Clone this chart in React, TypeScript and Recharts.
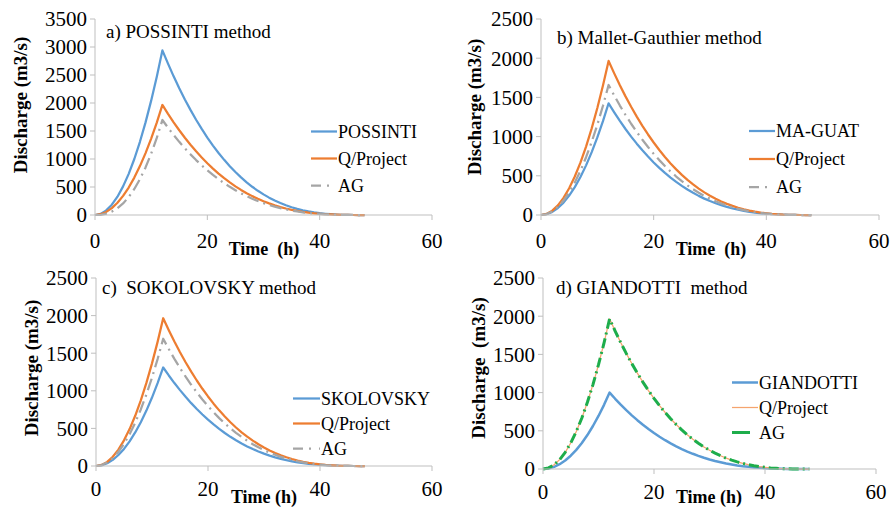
import React from 'react';
import { LineChart, Line, XAxis, YAxis, Legend } from 'recharts';

const FONT = '"Liberation Serif", "Times New Roman", Times, serif';
const AXIS_COLOR = '#BFBFBF';

// Time steps of the hydrographs (h)
const hours = [
  0, 1, 2, 3, 4, 5, 6, 7, 8, 9, 10, 11, 12, 13, 14, 15, 16, 17, 18, 19, 20, 21, 22, 23, 24,
  25, 26, 27, 28, 29, 30, 31, 32, 33, 34, 35, 36, 37, 38, 39, 40, 41, 42, 43, 44, 45, 46, 47, 48,
];

// Design flood hydrograph (m3/s)
const qProject = [
  0, 14, 55, 123, 218, 341, 491, 668, 873, 1105, 1365, 1651, 1965, 1806, 1655, 1513, 1380, 1255,
  1137, 1027, 925, 829, 740, 658, 582, 512, 448, 390, 337, 289, 246, 207, 173, 142, 116, 93, 73,
  56, 42, 31, 22, 14, 9, 5, 3, 1, 0, 0, 0,
];

// a) POSSINTI
const possinti = [
  0, 20, 82, 184, 327, 511, 735, 1000, 1307, 1654, 2042, 2470, 2940, 2702, 2476, 2264, 2064, 1877,
  1701, 1537, 1383, 1240, 1107, 985, 871, 767, 671, 584, 504, 432, 368, 310, 258, 213, 173, 138,
  109, 84, 63, 46, 32, 22, 14, 8, 4, 2, 0, 0, 0,
];
const agPossinti = [
  0, 4, 23, 61, 121, 207, 321, 465, 641, 850, 1095, 1376, 1696, 1559, 1428, 1306, 1191, 1083, 981,
  886, 798, 716, 639, 568, 503, 442, 387, 337, 291, 249, 212, 179, 149, 123, 100, 80, 63, 48, 36,
  26, 19, 12, 8, 5, 2, 1, 0, 0, 0,
];

// b) Mallet-Gauthier
const malletGauthier = [
  0, 10, 40, 89, 158, 248, 356, 485, 633, 802, 990, 1197, 1425, 1310, 1200, 1097, 1000, 910, 825,
  745, 670, 601, 537, 477, 422, 372, 325, 283, 244, 209, 178, 150, 125, 103, 84, 67, 53, 41, 30,
  22, 16, 10, 7, 4, 2, 1, 0, 0, 0,
];
const agMallet = [
  0, 12, 46, 104, 184, 288, 415, 564, 737, 933, 1151, 1393, 1658, 1524, 1396, 1277, 1164, 1059,
  959, 867, 780, 700, 625, 555, 491, 432, 378, 329, 284, 244, 207, 175, 146, 120, 97, 78, 61, 47,
  35, 26, 18, 12, 8, 4, 2, 1, 0, 0, 0,
];

// c) Sokolovsky
const sokolovsky = [
  0, 9, 36, 82, 146, 227, 328, 446, 582, 737, 910, 1101, 1310, 1204, 1103, 1009, 920, 836, 758,
  685, 616, 553, 493, 439, 388, 342, 299, 260, 225, 193, 164, 138, 115, 95, 77, 62, 48, 37, 28,
  20, 14, 10, 6, 4, 2, 1, 0, 0, 0,
];
const agSokolovsky = [
  0, 12, 47, 106, 188, 294, 423, 576, 752, 952, 1175, 1422, 1692, 1555, 1425, 1303, 1188, 1080,
  979, 884, 796, 714, 637, 567, 501, 441, 386, 336, 290, 249, 212, 178, 149, 122, 99, 80, 63, 48,
  36, 26, 19, 12, 8, 5, 2, 1, 0, 0, 0,
];

// d) Giandotti
const giandotti = [
  0, 7, 28, 63, 111, 174, 250, 340, 444, 563, 694, 840, 1000, 919, 842, 770, 702, 639, 579, 523,
  471, 422, 377, 335, 296, 261, 228, 199, 172, 147, 125, 105, 88, 72, 59, 47, 37, 29, 21, 16, 11,
  7, 5, 3, 1, 1, 0, 0, 0,
];
// AG coincides with the design hydrograph in this panel
const agGiandotti = qProject;

const xTicks = [0, 20, 40, 60];
const yTicksWide = [0, 500, 1000, 1500, 2000, 2500, 3000, 3500];
const yTicksStd = [0, 500, 1000, 1500, 2000, 2500];

type SeriesStyle = {
  key: string;
  name: string;
  color: string;
  width: number;
  dash?: string;
  legendDash?: string;
};

type Box = { top: number; right: number; bottom: number; left: number };

type PanelSpec = {
  left: number;
  top: number;
  width: number;
  height: number;
  margin: Box;
  yMax: number;
  yTicks: number[];
  main: number[];
  ag: number[];
  series: SeriesStyle[];
  title: string;
  titleAt: [number, number];
  yLabel: string;
  yLabelAt: [number, number];
  xLabel: string;
  xLabelAt: [number, number];
  xTickMargin: number;
  legendAt: [number, number];
  legendGap: number;
  legendLine: number;
};

const BLUE = '#5B9BD5';
const ORANGE = '#ED7D31';
const GRAY = '#A5A5A5';
const GREEN = '#1EAD4B';
const LIGHT_ORANGE = '#F5A46E';

const std = (mainName: string): SeriesStyle[] => [
  { key: 'main', name: mainName, color: BLUE, width: 2.25 },
  { key: 'q', name: 'Q/Project', color: ORANGE, width: 2.25 },
  { key: 'ag', name: 'AG', color: GRAY, width: 2.25, dash: '12 5 2 5', legendDash: '10 6 2 8' },
];

const panels: PanelSpec[] = [
  {
    left: 0, top: 0, width: 445, height: 262,
    margin: { top: 19, right: 13, bottom: 17, left: 35 },
    yMax: 3500, yTicks: yTicksWide, main: possinti, ag: agPossinti,
    series: std('POSSINTI'),
    title: 'a) POSSINTI method', titleAt: [106, 31],
    yLabel: 'Discharge (m3/s)', yLabelAt: [20, 105],
    xLabel: 'Time  (h)', xLabelAt: [264, 249], xTickMargin: 13,
    legendAt: [311, 131], legendGap: 27, legendLine: 26,
  },
  {
    left: 445, top: 0, width: 445, height: 262,
    margin: { top: 19, right: 11, bottom: 17, left: 36 },
    yMax: 2500, yTicks: yTicksStd, main: malletGauthier, ag: agMallet,
    series: std('MA-GUAT'),
    title: 'b) Mallet-Gauthier method', titleAt: [112, 37],
    yLabel: 'Discharge (m3/s)', yLabelAt: [29, 107],
    xLabel: 'Time  (h)', xLabelAt: [266, 249], xTickMargin: 13,
    legendAt: [304, 131], legendGap: 28, legendLine: 26,
  },
  {
    left: 0, top: 255, width: 445, height: 252,
    margin: { top: 23, right: 13, bottom: 11, left: 36 },
    yMax: 2500, yTicks: yTicksStd, main: sokolovsky, ag: agSokolovsky,
    series: std('SKOLOVSKY'),
    title: 'c)  SOKOLOVSKY method', titleAt: [102, 32],
    yLabel: 'Discharge (m3/s)', yLabelAt: [31, 113],
    xLabel: 'Time (h)', xLabelAt: [264, 242], xTickMargin: 10,
    legendAt: [293, 143], legendGap: 25, legendLine: 27,
  },
  {
    left: 445, top: 255, width: 445, height: 252,
    margin: { top: 23, right: 14, bottom: 8, left: 38 },
    yMax: 2500, yTicks: yTicksStd, main: giandotti, ag: agGiandotti,
    series: [
      { key: 'main', name: 'GIANDOTTI', color: BLUE, width: 2.5 },
      { key: 'q', name: 'Q/Project', color: LIGHT_ORANGE, width: 1.25 },
      { key: 'ag', name: 'AG', color: GREEN, width: 3, dash: '10 4 2 4', legendDash: '18 8' },
    ],
    title: 'd) GIANDOTTI  method', titleAt: [111, 32],
    yLabel: 'Discharge  (m3/s)', yLabelAt: [33, 113],
    xLabel: 'Time (h)', xLabelAt: [264, 242], xTickMargin: 10,
    legendAt: [287, 127], legendGap: 25, legendLine: 26,
  },
];

const serifStyle = { fontFamily: FONT, whiteSpace: 'pre' as const };

// Title and vertical axis caption, drawn from the Y axis label slot
function YAxisCaption({ spec }: { spec: PanelSpec }) {
  const [tx, ty] = spec.titleAt;
  const [lx, ly] = spec.yLabelAt;
  return (
    <g>
      <text x={tx} y={ty} dominantBaseline="central" fontSize={19} fill="#000"
        xmlSpace="preserve" style={serifStyle}>
        {spec.title}
      </text>
      <text x={lx} y={ly} transform={`rotate(-90, ${lx}, ${ly})`} textAnchor="middle"
        dominantBaseline="central" fontSize={19} fontWeight="bold" fill="#000"
        xmlSpace="preserve" style={serifStyle}>
        {spec.yLabel}
      </text>
    </g>
  );
}

function XAxisCaption({ spec }: { spec: PanelSpec }) {
  const [x, y] = spec.xLabelAt;
  return (
    <text x={x} y={y} textAnchor="middle" dominantBaseline="central" fontSize={18}
      fontWeight="bold" fill="#000" xmlSpace="preserve" style={serifStyle}>
      {spec.xLabel}
    </text>
  );
}

// Tick labels in the serif face used across the figure
function XTick(props: any) {
  const { x, y, payload } = props;
  return (
    <text x={x} y={y} dy="0.71em" textAnchor="middle" fontSize={21} fill="#000" style={serifStyle}>
      {payload.value}
    </text>
  );
}

function YTick(props: any) {
  const { x, y, payload } = props;
  return (
    <text x={x} y={y} dy="0.35em" textAnchor="end" fontSize={21} fill="#000" style={serifStyle}>
      {payload.value}
    </text>
  );
}

// Legend rows in series order: short line sample followed by the series name
function LegendRows({ payload, spec }: { payload?: any[]; spec: PanelSpec }) {
  const gap = spec.legendGap;
  const names: Record<string, string> = {};
  (payload ?? []).forEach((e: any) => { names[String(e.dataKey)] = String(e.value); });
  return (
    <svg width={150} height={gap * spec.series.length} style={{ display: 'block', overflow: 'visible' }}>
      {spec.series.map((s, i) => {
        const cy = gap * i + gap / 2;
        return (
          <g key={s.key}>
            <line x1={0} x2={spec.legendLine} y1={cy} y2={cy} stroke={s.color}
              strokeWidth={s.width} strokeDasharray={s.legendDash ?? s.dash} />
            <text x={spec.legendLine + 1} y={cy} dominantBaseline="central" fontSize={18}
              fill="#000" style={serifStyle}>
              {names[s.key] ?? s.name}
            </text>
          </g>
        );
      })}
    </svg>
  );
}

function Panel({ spec }: { spec: PanelSpec }) {
  const rows = hours.map((t, i) => ({ t, main: spec.main[i], q: qProject[i], ag: spec.ag[i] }));
  return (
    <div style={{ position: 'absolute', left: spec.left, top: spec.top }}>
      <LineChart width={spec.width} height={spec.height} data={rows} margin={spec.margin}
        style={{ overflow: 'visible' }}>
        <XAxis dataKey="t" type="number" domain={[0, 60]} ticks={xTicks} interval={0} height={30}
          tickSize={5} tickMargin={spec.xTickMargin} axisLine={{ stroke: AXIS_COLOR }}
          tickLine={{ stroke: AXIS_COLOR }} tick={<XTick />} allowDecimals={false}
          label={<XAxisCaption spec={spec} />} />
        <YAxis type="number" domain={[0, spec.yMax]} ticks={spec.yTicks} interval={0} width={60}
          tickSize={5} tickMargin={3} axisLine={{ stroke: AXIS_COLOR }}
          tickLine={{ stroke: AXIS_COLOR }} tick={<YTick />}
          label={<YAxisCaption spec={spec} />} />
        {spec.series.map((s) => (
          <Line key={s.key} dataKey={s.key} name={s.name} type="linear" stroke={s.color}
            strokeWidth={s.width} strokeDasharray={s.dash} dot={false} activeDot={false}
            strokeLinejoin="round" isAnimationActive={false} />
        ))}
        <Legend layout="vertical" align="center" verticalAlign="middle"
          wrapperStyle={{
            left: spec.legendAt[0],
            top: spec.legendAt[1] - spec.legendGap / 2,
            width: 150,
            margin: 0,
          }}
          content={(props: any) => <LegendRows payload={props.payload} spec={spec} />} />
      </LineChart>
    </div>
  );
}

export default function App() {
  return (
    <div style={{ position: 'absolute', left: 0, top: 0, width: 890, height: 507, background: '#fff', overflow: 'hidden' }}>
      {panels.map((p, i) => (
        <Panel key={i} spec={p} />
      ))}
    </div>
  );
}
